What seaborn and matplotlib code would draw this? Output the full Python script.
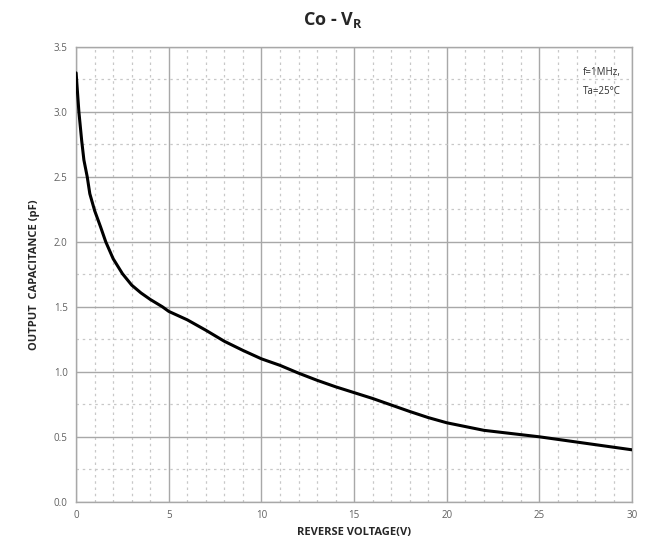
import numpy as np
import pandas as pd
import seaborn as sns
import matplotlib.pyplot as plt
from matplotlib.ticker import MultipleLocator

# values
voltage = [0, 0.15, 0.3, 0.42, 0.6, 0.74, 1, 1.32, 1.6, 2, 2.5, 3, 3.5, 4,
           4.66, 5, 6, 7, 8, 9, 10, 11, 12, 13, 14, 15, 16, 17, 18, 19, 20,
           22, 25, 27, 30]
capacitance = [3.3, 3.0, 2.78, 2.63, 2.5, 2.37, 2.24, 2.115, 2.0, 1.87, 1.755,
               1.667, 1.607, 1.557, 1.5, 1.465, 1.40, 1.32, 1.235, 1.165,
               1.10, 1.05, 0.99, 0.935, 0.885, 0.84, 0.795, 0.745, 0.695,
               0.648, 0.608, 0.55, 0.5, 0.46, 0.40]

x_ticks = [0, 5, 10, 15, 20, 25, 30]
y_ticks = [0.0, 0.5, 1.0, 1.5, 2.0, 2.5, 3.0, 3.5]

data = pd.DataFrame({'voltage': voltage, 'capacitance': capacitance})

sns.set_style('ticks')
plt.rcParams['font.family'] = ['Open Sans', 'DejaVu Sans']

fig = plt.figure(figsize=(6.45, 5.39), dpi=100)
ax = fig.add_axes([0.118, 0.069, 0.862, 0.844])

sns.lineplot(data=data, x='voltage', y='capacitance', ax=ax,
             color='black', linewidth=2.2, zorder=3)

ax.set_xlim(0, 30)
ax.set_ylim(0, 3.5)
ax.set_xticks(x_ticks)
ax.set_yticks(y_ticks)
ax.set_xticklabels([str(v) for v in x_ticks])
ax.set_yticklabels([f'{v:.1f}' for v in y_ticks])
ax.xaxis.set_minor_locator(MultipleLocator(1))
ax.yaxis.set_minor_locator(MultipleLocator(0.25))

ax.grid(which='major', color='#a8a8a8', linewidth=1.0, linestyle='-')
ax.grid(which='minor', color='#c8c8c8', linewidth=0.9, linestyle=(0, (2, 3)))
ax.tick_params(which='both', length=0, labelsize=7, labelcolor='#606060', pad=6)
for s in ax.spines.values():
    s.set_color('#a8a8a8')
    s.set_linewidth(1.0)

ax.set_xlabel('REVERSE VOLTAGE(V)', fontsize=8, fontweight='bold', labelpad=4)
ax.set_ylabel('OUTPUT  CAPACITANCE (pF)', fontsize=8, fontweight='bold', labelpad=10)

fig.text(0.517, 0.962, r'Co - V$_\mathregular{R}$', ha='center', va='center',
         fontsize=13, fontweight='bold')

ax.text(0.912, 0.955, 'f=1MHz,\nTa=25°C', transform=ax.transAxes, ha='left',
        va='top', fontsize=7, linespacing=1.9, color='#303030')

fig.savefig('out.png', dpi=100)
